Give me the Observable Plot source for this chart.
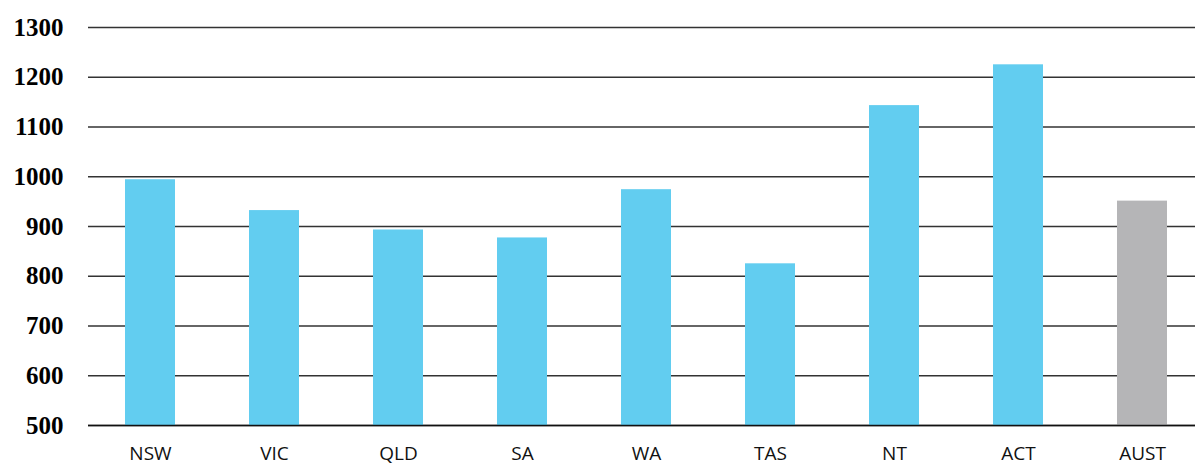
<!DOCTYPE html>
<html><head><meta charset="utf-8">
<script src="https://cdn.jsdelivr.net/npm/d3@7"></script>
<script src="https://cdn.jsdelivr.net/npm/@observablehq/plot@0.6"></script>
<style>body{margin:0;background:#fff;} svg{display:block;}</style>
</head><body><div id="chart"></div>
<script>
const states = ["NSW","VIC","QLD","SA","WA","TAS","NT","ACT","AUST"];
const values = [994, 932, 893, 877, 974, 825, 1143, 1225, 951];
const groups = ["state","state","state","state","state","state","state","state","total"];
const yTicks = [500,600,700,800,900,1000,1100,1200,1300];
const data = states.map((s,i)=>({state:s, value:values[i], group:groups[i]}));
const chart = Plot.plot({
  width: 1195, height: 469,
  marginLeft: 88, marginRight: 0, marginTop: 27, marginBottom: 44,
  x: {domain: states, range: [86, 1205], paddingInner: 0.6, paddingOuter: 0.3, label: null},
  y: {domain: [500,1300], label: null},
  color: {domain: ["state","total"], range: ["#62CDF0","#B5B5B7"]},
  marks: [
    Plot.gridY(yTicks, {stroke: "#333", strokeOpacity: 1, strokeWidth: 1.3}),
    Plot.barY(data, {x: "state", y1: 500, y2: "value", fill: "group"}),
    Plot.ruleY([500], {stroke: "#111", strokeWidth: 1.5}),
    Plot.axisY(yTicks, {tickSize: 0, tickPadding: 25, tickFormat: "d", fontSize: 25, fontWeight: "bold", fontFamily: "Liberation Serif", fill: "#000", label: null}),
    Plot.axisX({tickSize: 0, tickPadding: 21, fontSize: 19, fontFamily: "Open Sans", fill: "#111", label: null})
  ]
});
document.getElementById("chart").appendChild(chart);
</script></body></html>
